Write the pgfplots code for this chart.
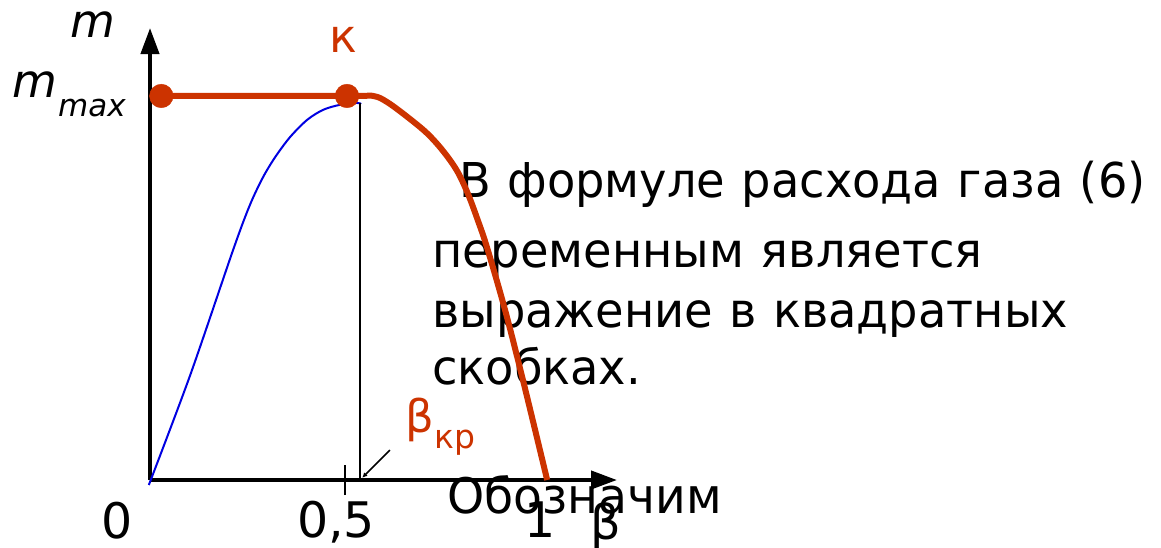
\documentclass[border=0pt]{standalone}
\usepackage{fontspec}
\setmainfont{DejaVu Sans}
\newfontfamily\bodyfont{DejaVu Sans}[FakeStretch=0.965]
\usepackage{pgfplots}
\pgfplotsset{compat=1.18}
\usetikzlibrary{arrows.meta}
\definecolor{rust}{RGB}{204,51,0}
\definecolor{curveblue}{RGB}{0,0,225}
\newcommand{\fs}[1]{\fontsize{#1}{#1}\selectfont}
\newcommand{\body}[1]{\bodyfont\fs{48}\spaceskip=16.5pt #1}

\begin{document}
\begin{tikzpicture}
\path[use as bounding box] (0pt,0pt) rectangle (1161pt,547pt);

% explanatory text
\begin{scope}[every node/.style={inner sep=0pt, anchor=base west}]
\node at (459pt,349pt) {\body{В формуле расхода газа (6)}};
\node at (432pt,280pt) {\body{переменным является}};
\node at (432pt,220pt) {\body{выражение в квадратных}};
\node at (432pt,163pt) {\body{скобках.}};
\node at (447pt,34pt) {\bodyfont\fs{49}Обозначим};
\end{scope}

\begin{axis}[
  at={(150pt,67pt)}, anchor=south west,
  scale only axis, width=467pt, height=452pt,
  xmin=0, xmax=1.197, ymin=0, ymax=1.177,
  axis lines=middle,
  axis line style={line width=4pt, -{Triangle[length=26pt,width=18pt]}},
  xtick={0.5}, xticklabels={}, ytick=\empty,
  tick align=center, major tick length=30pt,
  tick style={line width=1.5pt, black},
  clip=false,
]
% mass flow for the subcritical formula
\addplot[curveblue, line width=2pt, smooth, tension=0.5] coordinates {
  (-0.003,-0.013) (0.103,0.273) (0.213,0.599) (0.256,0.716) (0.290,0.789)
  (0.321,0.841) (0.359,0.893) (0.403,0.938) (0.444,0.964) (0.487,0.977)
  (0.531,0.982) (0.541,0.979)};
% critical pressure ratio
\addplot[black, line width=2pt] coordinates {(0.537,0) (0.537,0.982)};
% actual mass flow
\addplot[rust, line width=6pt, smooth, tension=0.55] coordinates {
  (0.029,1) (0.505,1) (0.572,1) (0.608,0.984) (0.659,0.946) (0.710,0.903)
  (0.751,0.857) (0.787,0.805) (0.815,0.745) (0.840,0.677) (0.864,0.605)
  (0.910,0.443) (0.956,0.260) (1.018,0)};
\addplot[rust, only marks, mark=*, mark size=11.8pt] coordinates {(0.029,1) (0.505,1)};
\draw[line width=1.5pt, -{Latex[length=5pt,width=5pt]}]
  (axis cs:0.615,0.078) -- (axis cs:0.544,0.006);
\end{axis}

% axis annotations
\begin{scope}[every node/.style={inner sep=0pt}]
\node[anchor=base] at (93pt,509pt) {\fs{46}\itshape m};
\node[anchor=base west] at (12pt,449pt) {\fs{46}\itshape m};
\node[anchor=base west] at (58pt,430pt) {\fs{31}\itshape max};
\node[anchor=base, text=rust] at (343pt,494pt) {\fs{46}к};
\node[anchor=base west, text=rust] at (405pt,115pt) {\fs{45}β};
\node[anchor=base west, text=rust] at (434pt,99pt) {\fs{33}кр};
\node[anchor=base] at (117pt,9pt) {\fs{49}0};
\node[anchor=base] at (336pt,10pt) {\fs{49}0,5};
\node[anchor=base] at (540pt,10pt) {\fs{49}1};
\node[anchor=base west] at (590pt,8pt) {\fs{48}β};
\end{scope}
\end{tikzpicture}
\end{document}
